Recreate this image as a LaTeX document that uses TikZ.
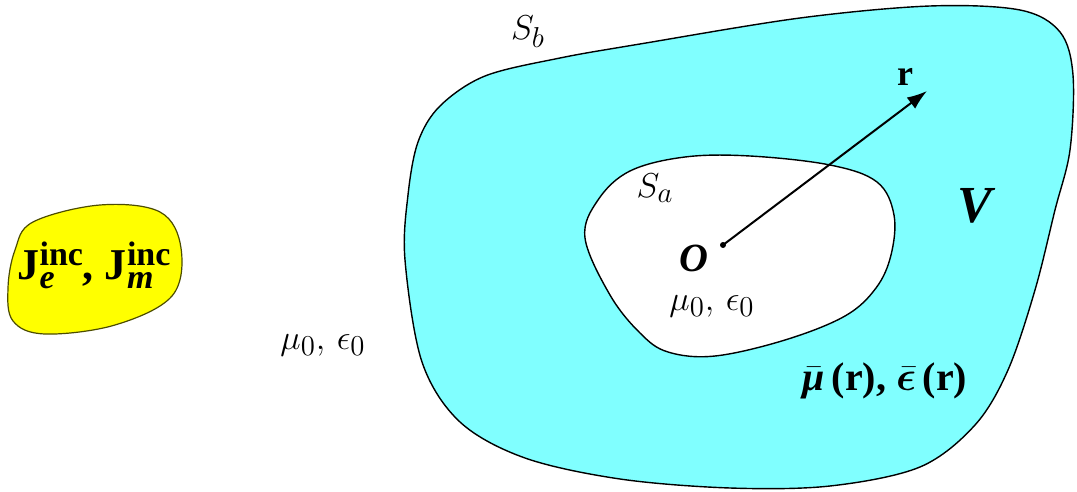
\documentclass[tikz,border=0pt]{standalone}
\usepackage{amsmath,amssymb,bm}
\usepackage[no-math]{fontspec}
\setmainfont{Liberation Serif}
\usetikzlibrary{arrows.meta,positioning,calc}
\definecolor{VolCyan}{HTML}{80FFFF}
\definecolor{SrcYellow}{HTML}{FFFF00}
\newcommand{\incsrc}[1]{J\rlap{\smash{\raisebox{-4.5pt}{\fontsize{17}{19}\selectfont\itshape #1}}}\smash{\raisebox{7pt}{\fontsize{17}{19}\selectfont inc}}}

\begin{document}
\begin{tikzpicture}[x=0.5pt,y=-0.5pt,
    mlabel/.style={inner sep=0pt,font=\fontsize{19}{21}\selectfont},
    blabel/.style={inner sep=0pt,font=\fontsize{18}{20}\selectfont\bfseries}]
        \useasboundingbox (0,0) rectangle (1077,492);
        % volume V between S_a and S_b
        \draw[line width=0.7pt,fill=VolCyan] plot[smooth cycle,tension=0.55] coordinates {
          (405,260) (408,195) (418,142) (440,106) (485,76) (560,58) (640,44) (800,18)
          (930,6) (1020,10) (1060,32) (1073,75) (1070,150) (1055,210)
          (1035,290) (1008,370) (975,425) (920,467) (830,486) (730,488)
          (620,479) (525,458) (460,422) (422,362)};
        \draw[line width=0.7pt,fill=white] plot[smooth cycle,tension=0.6] coordinates {
          (585,238) (598,200) (630,171) (685,157) (750,156) (830,165) (877,182)
          (894,215) (891,255) (876,288) (845,316) (785,340) (715,356) (668,352)
          (640,333) (610,295)};
        % source region
        \draw[line width=0.6pt,draw=black!70!SrcYellow,fill=SrcYellow] plot[smooth cycle,tension=0.6] coordinates {
          (8,288) (15,250) (33,222) (100,205) (160,212) (181,248) (172,296)
          (115,325) (45,334) (13,321)};
        \node[inner sep=0pt,font=\fontsize{22}{24}\selectfont\bfseries] (src) at (94,268) {\incsrc{e}, \incsrc{m}};
        % origin and position vector
        \coordinate (o) at (723,245);
        \coordinate (rtip) at (927,91);
        \fill (o) circle (3);
        \draw[line width=1pt,-{Latex[length=10pt,width=7pt]}] (o) -- (rtip);
        \node[blabel] (rlbl) at (905,77) {r};
        \node[inner sep=0pt,font=\fontsize{20}{22}\selectfont\bfseries\itshape] (olbl) at (694,258) {O};
        \node[inner sep=0pt,font=\fontsize{26}{28}\selectfont\bfseries\itshape] (vlbl) at (975,206) {V};
        % surfaces and media
        \node[mlabel] (sb) at (528,32) {$S_b$};
        \node[mlabel] (sa) at (655,188) {$S_a$};
        \node[mlabel] (inmed) at (712,306) {$\mu_0,\,\epsilon_0$};
        \node[mlabel] (outmed) at (323,345) {$\mu_0,\,\epsilon_0$};
        \node[inner sep=0pt,font=\fontsize{20}{22}\selectfont\bfseries] (volmed) at (885,381) {$\bar{\text{\itshape μ}}$\,(r), $\bar{\bm{\epsilon}}$\,(r)};
      \end{tikzpicture}
\end{document}
